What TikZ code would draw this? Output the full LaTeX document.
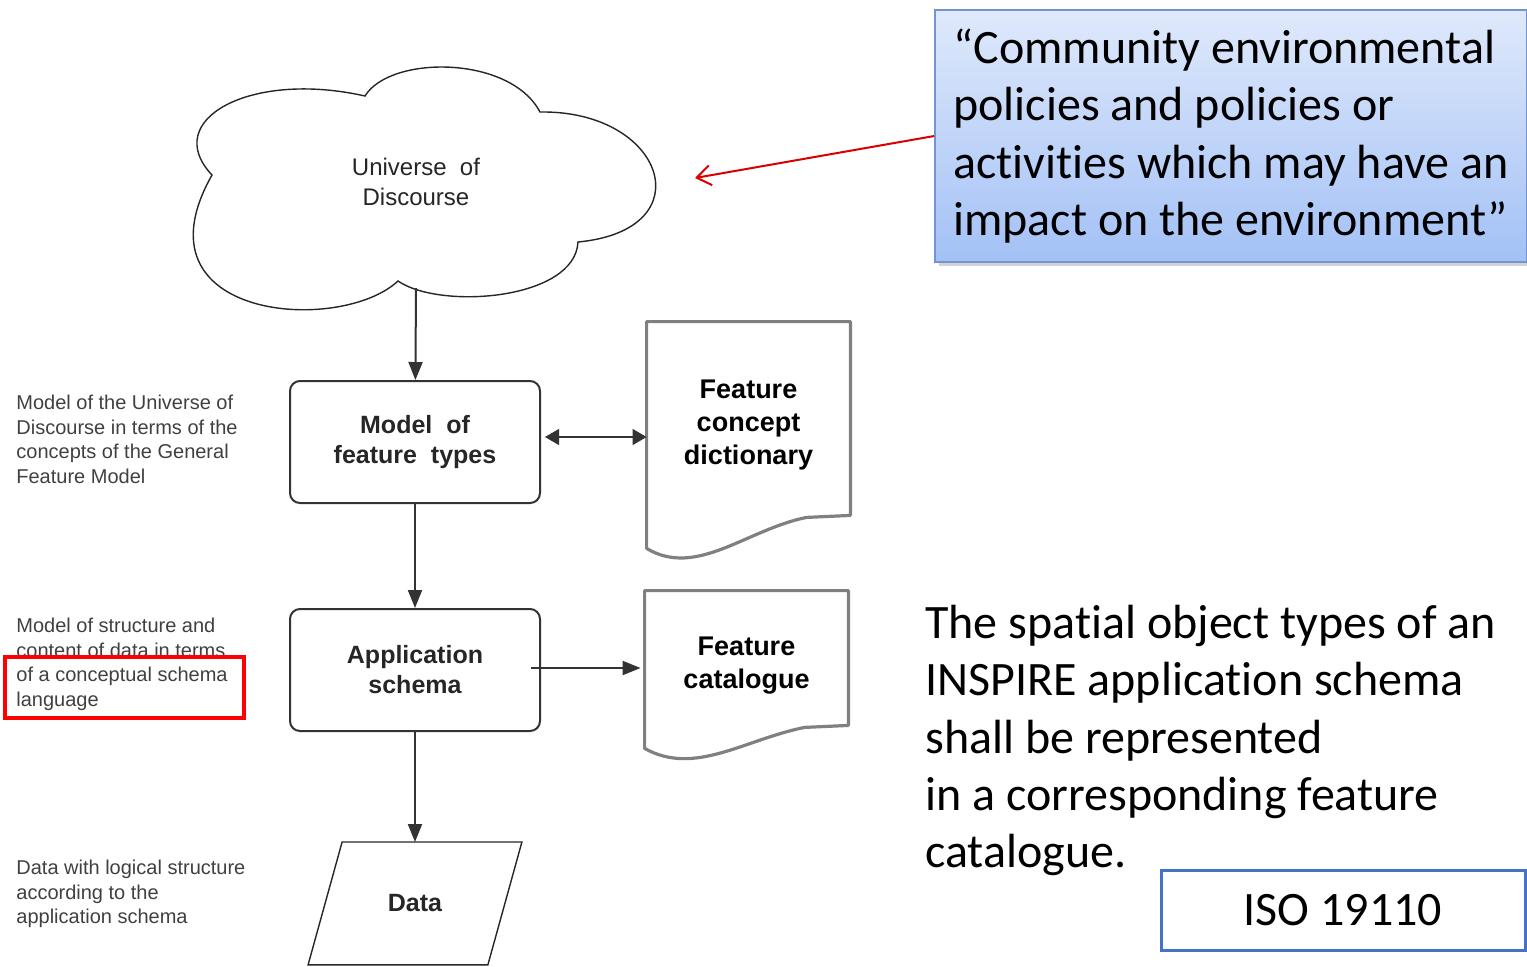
\documentclass[tikz,border=0pt]{standalone}
\usepackage{fontspec}
\newfontfamily\arialfont{Liberation Sans}
\newfontfamily\calibrifont[RawFeature={-liga;-clig;-calt}]{Carlito}
\usetikzlibrary{positioning, arrows.meta, calc, shadows}

\definecolor{quotetop}{HTML}{DFE9FB}
\definecolor{quotebottom}{HTML}{A3C1F6}
\definecolor{quoteborder}{HTML}{7493CF}
\definecolor{isoblue}{HTML}{4472C4}

\begin{document}
\begin{tikzpicture}[
    x=0.5pt, y=-0.5pt,
    procbox/.style={draw=black!80, line width=1pt, rounded corners=5pt, minimum width=125pt, minimum height=61pt, align=center, text=black!85, font=\arialfont\bfseries\fontsize{12.5}{15}\selectfont},
    docbox/.style={minimum width=101.5pt, align=center, text=black, font=\arialfont\bfseries\fontsize{13.5}{16.5}\selectfont},
    docline/.style={draw=black!50, line width=1.6pt, line join=round},
    thinline/.style={draw=black!85, line width=0.7pt},
    note/.style={anchor=north west, inner sep=0pt, align=left, text=black!75, font=\arialfont\fontsize{10}{12.25}\selectfont},
    slidetext/.style={align=left, font=\calibrifont\fontsize{24}{28.6}\selectfont},
    arrow/.style={-{Triangle[length=9pt, width=7pt]}, draw=black!80, line width=1pt},
    dblarrow/.style={{Triangle[length=7pt, width=8pt]}-{Triangle[length=7pt, width=8pt]}, draw=black!80, line width=0.6pt},
    redarrow/.style={-{Straight Barb[length=7pt, width=10pt]}, draw=red!85!black, line width=1pt},
    highlight/.style={draw=red, line width=2pt}
]
\useasboundingbox (0,0) rectangle (1527,966);

% Universe of Discourse (cloud)
\draw[thinline, fill=white] (212,175)
    .. controls (160,120) and (250,70) .. (365,96)
    .. controls (390,55) and (510,55) .. (540,112)
    .. controls (665,110) and (705,230) .. (578,242)
    .. controls (575,300) and (440,310) .. (398,281)
    .. controls (340,335) and (130,320) .. (212,175) -- cycle;
\node[align=center, text=black!85, font=\arialfont\fontsize{12}{15}\selectfont] (uod) at (416,182) {Universe\ \ of\\Discourse};
\coordinate (uodbot) at (416,288);
\coordinate (uodtip) at (695,178);

% Main chain
\node[procbox] (model) at (415,442) {Model\ \ of\\feature\ \ types};
\node[procbox, below=52pt of model] (app) {Application\\schema};
\node[minimum width=89.5pt, minimum height=61pt, text=black!85, font=\arialfont\bfseries\fontsize{12.5}{15}\selectfont, below=55pt of app] (data) {Data};
\draw[thinline] ($(data.north west)+(17,0)$) -- ($(data.north east)+(17,0)$)
    -- ($(data.south east)+(-17,0)$) -- ($(data.south west)+(-17,0)$) -- cycle;

% Documents
\node[docbox, minimum height=103pt] (fcd) at (748.5,425) {Feature\\concept\\dictionary};
\draw[docline] (fcd.north west) -- (fcd.north east) -- ($(fcd.south east)+(0,-13)$) -- ($(fcd.south west)+(160,-11)$)
    .. controls +(-60,12) and +(50,30) .. ($(fcd.south west)+(0,20)$) -- cycle;
\node[docbox, minimum height=74.5pt] (fc) at (746.5,665.5) {Feature\\catalogue};
\draw[docline] (fc.north west) -- (fc.north east) -- ($(fc.south east)+(0,-15)$) -- ($(fc.south west)+(160,-13)$)
    .. controls +(-60,12) and +(50,28) .. ($(fc.south west)+(0,8)$) -- cycle;

% Connections
\draw[arrow] (uodbot) -- (model);
\draw[arrow] (model) -- (app);
\draw[arrow] (app) -- (data);
\draw[dblarrow] ([xshift=2pt, yshift=2.5pt]model.east) -- ([yshift=2.5pt]model.east -| fcd.west);
\draw[arrow, shorten >=2pt] ([xshift=-5pt, yshift=1pt]app.east) -- ([yshift=1pt]app.east -| fc.west);

% Side notes
\node[note] (note1) at (16,395) {Model of the Universe of\\Discourse in terms of the\\concepts of the General\\Feature Model};
\node[note] (note2) at (16,618) {Model of structure and\\content of data in terms\\of a conceptual schema\\language};
\node[note] (note3) at (16,860) {Data with logical structure\\according to the\\application schema};
\draw[highlight] (5,657) rectangle (244,718);

% Slide annotations
\node[slidetext, draw=quoteborder, line width=0.8pt, top color=quotetop, bottom color=quotebottom,
      drop shadow={shadow xshift=2pt, shadow yshift=-2pt, opacity=0.35},
      minimum width=296pt, minimum height=126pt] (quote) at (1231,136)
    {“Community environmental\\policies and policies or\\activities which may have an\\impact on the environment”};
\draw[redarrow] (quote.west) -- (uodtip);
\node[slidetext, anchor=north west, inner sep=0pt] (spatial) at (925,605)
    {The spatial object types of an\\INSPIRE application schema\\shall be represented\\in a corresponding feature\\catalogue.};
\node[slidetext, draw=isoblue, line width=1.5pt, fill=white, minimum width=182pt, minimum height=40pt] (iso) at (1343,910) {ISO 19110};

\end{tikzpicture}
\end{document}
